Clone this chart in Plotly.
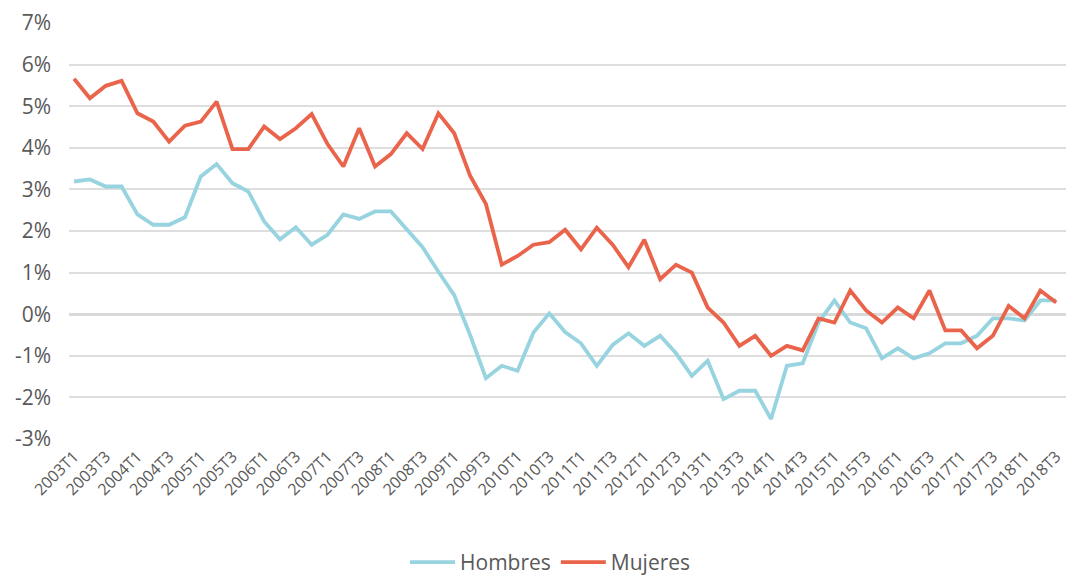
import plotly.graph_objects as go

# quarters 2003T1 .. 2018T3
quarters = [f"{y}T{q}" for y in range(2003, 2019) for q in range(1, 5)][:63]

hombres = [3.19, 3.24, 3.07, 3.07, 2.40, 2.15, 2.15, 2.33, 3.31, 3.61,
           3.15, 2.95, 2.23, 1.80, 2.09, 1.67, 1.91, 2.40, 2.29, 2.47,
           2.47, 2.03, 1.61, 1.02, 0.46, -0.50, -1.54, -1.24, -1.36, -0.44,
           0.02, -0.43, -0.70, -1.24, -0.74, -0.46, -0.76, -0.52, -0.94, -1.48,
           -1.12, -2.04, -1.84, -1.84, -2.52, -1.24, -1.18, -0.20, 0.33, -0.20,
           -0.34, -1.06, -0.82, -1.06, -0.94, -0.70, -0.70, -0.52, -0.10, -0.10,
           -0.15, 0.33, 0.33]

mujeres = [5.66, 5.19, 5.49, 5.61, 4.83, 4.63, 4.15, 4.53, 4.63, 5.11,
           3.97, 3.97, 4.51, 4.21, 4.47, 4.81, 4.09, 3.55, 4.47, 3.55,
           3.85, 4.35, 3.97, 4.83, 4.35, 3.33, 2.65, 1.19, 1.40, 1.67,
           1.73, 2.03, 1.56, 2.08, 1.67, 1.13, 1.79, 0.84, 1.19, 1.00,
           0.16, -0.20, -0.76, -0.52, -1.00, -0.76, -0.87, -0.10, -0.20, 0.57,
           0.09, -0.20, 0.16, -0.10, 0.57, -0.39, -0.39, -0.82, -0.52, 0.20,
           -0.10, 0.57, 0.28]

y_ticks = [-3, -2, -1, 0, 1, 2, 3, 4, 5, 6, 7]
y_labels = [f"{v}%" for v in y_ticks]

fig = go.Figure()
fig.add_trace(go.Scatter(x=quarters, y=hombres, name="Hombres", mode="lines",
                         line=dict(color="#97d4e0", width=3.8)))
fig.add_trace(go.Scatter(x=quarters, y=mujeres, name="Mujeres", mode="lines",
                         line=dict(color="#e9644a", width=3.8)))

fig.update_layout(
    width=1072, height=583,
    margin=dict(l=69, r=6, t=23, b=144),
    plot_bgcolor="white", paper_bgcolor="white",
    font=dict(family="Open Sans", color="#595959"),
    showlegend=True,
    legend=dict(orientation="h", x=0.483, xanchor="center",
                yref="container", y=-0.03, yanchor="bottom",
                font=dict(size=21, color="#595959"), itemwidth=45),
)
fig.update_xaxes(
    type="category", range=[-0.32, 62.62], automargin=False,
    tickvals=quarters[::2], tickangle=-45,
    tickfont=dict(size=16, color="#595959"), ticklabelstandoff=4,
    showgrid=False, showline=False, zeroline=False, ticks="",
)
fig.update_yaxes(
    range=[-3, 7], tickvals=y_ticks, ticktext=y_labels, automargin=False,
    tickfont=dict(size=21, color="#595959"),
    showgrid=True, gridcolor="#dedede", gridwidth=1.5,
    zeroline=True, zerolinecolor="#d9d9d9", zerolinewidth=2.5,
    showline=False, ticks="", ticklabelstandoff=17,
)

# drop the default body margin so the figure sits at the page corner
fig.write_html("out.html", config={"displayModeBar": False},
               post_script="document.body.style.margin='0';")
